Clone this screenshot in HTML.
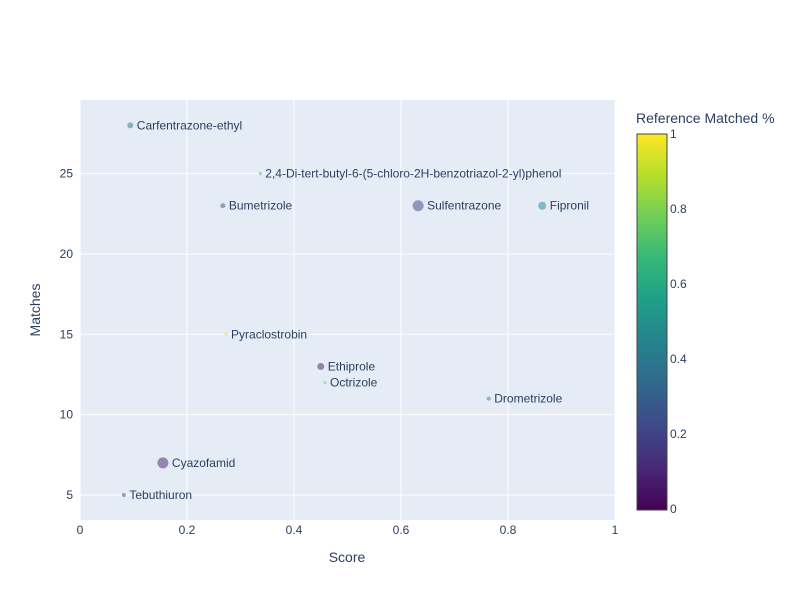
<!DOCTYPE html>
<html><head><meta charset="utf-8"><style>
body{margin:0;background:#fff;font-family:"Liberation Sans","Open Sans",sans-serif}
svg text{font-family:"Liberation Sans",sans-serif;fill:#2a3f5f}
</style></head><body>
<svg id="chart" width="800" height="600">
<defs><linearGradient id="vir" x1="0" y1="1" x2="0" y2="0">
<stop offset="0" stop-color="#440154"/><stop offset="0.111" stop-color="#482878"/><stop offset="0.222" stop-color="#3e4989"/><stop offset="0.333" stop-color="#31688e"/><stop offset="0.444" stop-color="#26828e"/><stop offset="0.556" stop-color="#1f9e89"/><stop offset="0.667" stop-color="#35b779"/><stop offset="0.778" stop-color="#6ece58"/><stop offset="0.889" stop-color="#b5de2b"/><stop offset="1" stop-color="#fde725"/></linearGradient></defs>
<rect x="80" y="100" width="535" height="420" fill="#e5ecf6"/>
<g id="grid"></g><g id="marks"></g>
<text x="347" y="562" text-anchor="middle" font-size="14">Score</text>
<text transform="translate(40,310) rotate(-90)" text-anchor="middle" font-size="14">Matches</text>
<text x="636" y="123" font-size="14">Reference Matched %</text>
<rect x="637" y="134" width="30" height="376" fill="url(#vir)" stroke="#444" stroke-width="1"/>
<g id="cbticks"></g>
</svg>
<script>
const names=["Carfentrazone-ethyl","2,4-Di-tert-butyl-6-(5-chloro-2H-benzotriazol-2-yl)phenol","Bumetrizole","Sulfentrazone","Fipronil","Pyraclostrobin","Ethiprole","Octrizole","Drometrizole","Cyazofamid","Tebuthiuron"];
const scores=[0.094,0.337,0.267,0.632,0.864,0.273,0.450,0.458,0.764,0.155,0.082];
const matches=[28,25,23,23,23,15,13,12,11,7,5];
const refPct=[0.4,0.65,0.25,0.2,0.45,0.95,0.05,0.75,0.45,0.08,0.22];
const sizes=[3,1.5,2.5,5.5,4,1.5,3.5,1.5,2,5.5,2];
const xTicks=[0,0.2,0.4,0.6,0.8,1];
const yTicks=[5,10,15,20,25];
const cbTicks=[0,0.2,0.4,0.6,0.8,1];
const NS="http://www.w3.org/2000/svg";
const X=v=>80+v*535, Y=v=>495-(v-5)*16.07, CB=v=>509-v*375;
const vir=["#440154","#482878","#3e4989","#31688e","#26828e","#1f9e89","#35b779","#6ece58","#b5de2b","#fde725"];
function col(t){const p=t*9,i=Math.min(8,Math.floor(p)),f=p-i;const a=vir[i],b=vir[i+1];const c=k=>Math.round(parseInt(a.substr(k,2),16)*(1-f)+parseInt(b.substr(k,2),16)*f);return `rgb(${c(1)},${c(3)},${c(5)})`;}
function mk(tag,at,txt){const e=document.createElementNS(NS,tag);for(const k in at)e.setAttribute(k,at[k]);if(txt!=null)e.textContent=txt;return e;}
const g=document.getElementById('grid'),m=document.getElementById('marks'),cb=document.getElementById('cbticks');
xTicks.forEach(v=>{const l=mk('line',{x1:X(v),x2:X(v),y1:100,y2:520,stroke:'#fff','stroke-width':1});


g.appendChild(l);
const t=mk('text',{x:X(v),y:534,'text-anchor':'middle','font-size':12},String(v));


g.appendChild(t);});
yTicks.forEach(v=>{const l=mk('line',{x1:80,x2:615,y1:Y(v),y2:Y(v),stroke:'#fff','stroke-width':1});


g.appendChild(l);
const t=mk('text',{x:73,y:Y(v)+4,'text-anchor':'end','font-size':12},String(v));


g.appendChild(t);});
names.forEach((n,i)=>{const c=mk('circle',{cx:X(scores[i]),cy:Y(matches[i]),r:sizes[i],fill:col(refPct[i]),'fill-opacity':0.5});


m.appendChild(c);
const t=mk('text',{x:X(scores[i])+sizes[i]+3.5,y:Y(matches[i])+4,'font-size':12},n);


m.appendChild(t);});
cbTicks.forEach(v=>{const t=mk('text',{x:670,y:CB(v)+4,'font-size':12},String(v));


cb.appendChild(t);});
</script>
</body></html>
